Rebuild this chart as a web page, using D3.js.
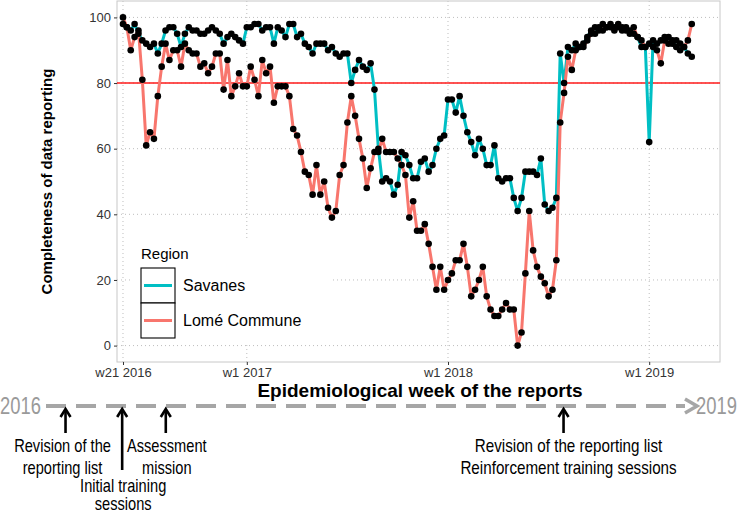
<!DOCTYPE html>
<html>
<head>
<meta charset="utf-8">
<script src="https://cdn.jsdelivr.net/npm/d3@7"></script>
<style>
  body { margin: 0; background: #fff; }
  svg { display: block; }
</style>
</head>
<body>
<svg id="chart" width="740" height="512"></svg>
<script>
// ---------- data ----------
const seriesNames = ["Savanes", "Lomé Commune"];
const seriesColors = ["#00BFC4", "#F8766D"];

const savanes = [98,97,96,98,95,93,92,91,92,89,92,96,97,97,95,91,95,97,96,96,95,95,96,97,96,95,92,94,95,94,
  93,92,97,97,98,98,96,97,97,92,97,96,94,98,98,94,95,92,91,89,92,92,92,90,91,89,88,89,89,80,
  84,87,85,84,86,78,60,50,51,50,46,49,59,58,55,51,51,56,57,53,55,60,63,64,75,75,71,76,70,65,
  62,58,63,60,55,55,61,51,50,51,51,45,41,45,53,53,53,52,57,43,41,42,45,89,80,91,90,92,91,92,
  94,96,95,97,96,97,98,97,97,96,97,95,95,94,91,91,62,93,92,93,94,92,93,91,90,91,89,88];

const lome = [100,97,90,94,96,81,61,65,63,76,85,92,87,90,90,85,92,90,89,89,85,86,83,85,89,89,78,87,76,79,
  83,79,79,85,81,76,87,83,85,74,79,79,79,76,66,64,59,53,52,46,55,46,50,42,39,41,52,55,68,76,
  70,63,57,48,54,59,59,63,59,59,59,57,55,52,39,44,35,35,37,31,24,17,24,17,20,22,26,26,31,24,
  15,17,20,24,15,11,9,9,11,13,11,11,0,4,22,41,29,24,21,19,15,17,26,68,77,88,84,90,91,91,
  93,95,97,96,98,97,97,96,98,97,96,96,97,94,93,91,92,91,90,86,93,94,92,93,92,91,93,98];

const xTickWeeks = [0, 32, 84, 136];            // weeks since w21 2016
const xTickLabels = ["w21 2016", "w1 2017", "w1 2018", "w1 2019"];
const yTicks = [0, 20, 40, 60, 80, 100];
const threshold = 80;

const timelineStart = "2016";
const timelineEnd = "2019";
const eventFractions = [0.03, 0.117, 0.184, 0.795];   // position along the timeline
const eventLines = [
  ["Revision of the", "reporting list"],
  ["Initial training", "sessions"],
  ["Assessment", "mission"],
  ["Revision of the reporting list", "Reinforcement training sessions"]
];
const eventLong = [false, true, false, false];

// ---------- layout ----------
const svg = d3.select("#chart");
const P = { left: 117, right: 720, top: 1, bottom: 362 };
const SANS = "Liberation Sans, Arial, sans-serif";

const weekIdx = savanes.map((_, i) => i);
const x = d3.scaleLinear().domain([-1.55, 154.3]).range([P.left, P.right]);
const y = d3.scaleLinear().domain([-5, 105]).range([P.bottom, P.top]);

svg.append("rect").attr("width", 740).attr("height", 512).attr("fill", "#fff");

// gridlines
const grid = svg.append("g");
grid.selectAll(".hg").data(yTicks).enter().append("line")
  .attr("x1", P.left).attr("x2", P.right)
  .attr("y1", d => y(d)).attr("y2", d => y(d))
  .attr("stroke", "#bdbdbd").attr("stroke-width", 1).attr("stroke-dasharray", "1,3");
grid.selectAll(".vg").data(xTickWeeks).enter().append("line")
  .attr("x1", d => x(d)).attr("x2", d => x(d))
  .attr("y1", P.top).attr("y2", P.bottom)
  .attr("stroke", "#bdbdbd").attr("stroke-width", 1).attr("stroke-dasharray", "1,3");

// panel border
svg.append("rect").attr("x", P.left).attr("y", P.top)
  .attr("width", P.right - P.left).attr("height", P.bottom - P.top)
  .attr("fill", "none").attr("stroke", "#c8c8c8").attr("stroke-width", 1);

// axes
const yAxis = svg.append("g").attr("transform", `translate(${P.left},0)`)
  .call(d3.axisLeft(y).tickValues(yTicks).tickSize(3).tickPadding(3));
const xAxis = svg.append("g").attr("transform", `translate(0,${P.bottom})`)
  .call(d3.axisBottom(x).tickValues(xTickWeeks).tickFormat((d, i) => xTickLabels[i]).tickSize(3).tickPadding(3));
[yAxis, xAxis].forEach(a => {
  a.select(".domain").remove();
  a.selectAll(".tick line").attr("stroke", "#333");
  a.selectAll(".tick text").attr("fill", "#333").attr("font-family", SANS).attr("font-size", 13);
});

// threshold
svg.append("line").attr("x1", P.left).attr("x2", P.right)
  .attr("y1", y(threshold)).attr("y2", y(threshold))
  .attr("stroke", "#ff1a1a").attr("stroke-width", 1.4);

// lines
const line = d3.line().x((d, i) => x(weekIdx[i])).y(d => y(d));
[savanes, lome].forEach((s, k) => {
  svg.append("path").datum(s).attr("d", line)
    .attr("fill", "none").attr("stroke", seriesColors[k]).attr("stroke-width", 3)
    .attr("stroke-linejoin", "round");
});
// points
[savanes, lome].forEach(s => {
  svg.append("g").selectAll("circle").data(s).enter().append("circle")
    .attr("cx", (d, i) => x(weekIdx[i])).attr("cy", d => y(d)).attr("r", 3.3).attr("fill", "#000");
});

// axis titles
svg.append("text").attr("transform", `translate(52,${(P.top + P.bottom) / 2}) rotate(-90)`)
  .attr("text-anchor", "middle").attr("font-family", SANS)
  .attr("font-weight", "bold").attr("font-size", 15).attr("fill", "#000")
  .text("Completeness of data reporting");
svg.append("text").attr("x", 420).attr("y", 397)
  .attr("text-anchor", "middle").attr("font-family", SANS)
  .attr("font-weight", "bold").attr("font-size", 19).attr("fill", "#000")
  .text("Epidemiological week of the reports");

// legend
const lg = svg.append("g");
lg.append("rect").attr("x", 133).attr("y", 238).attr("width", 200).attr("height", 105).attr("fill", "#fff");
lg.append("text").attr("x", 141).attr("y", 259).attr("font-family", SANS)
  .attr("font-size", 15).attr("fill", "#000").text("Region");
seriesNames.forEach((n, k) => {
  const ky = 268 + k * 35;
  lg.append("rect").attr("x", 141).attr("y", ky).attr("width", 34).attr("height", 35)
    .attr("fill", "#fff").attr("stroke", "#000").attr("stroke-width", 1.1);
  lg.append("line").attr("x1", 144).attr("x2", 172).attr("y1", ky + 17.5).attr("y2", ky + 17.5)
    .attr("stroke", seriesColors[k]).attr("stroke-width", 3);
  lg.append("text").attr("x", 183).attr("y", ky + 23).attr("font-family", SANS)
    .attr("font-size", 16).attr("fill", "#000").text(n);
});

// ---------- timeline ----------
// narrow (condensed) text: compress glyphs to fit the widths seen in the reference
function narrowText(g, t, cx, by, size, anchor, fill, factor) {
  const el = g.append("text").attr("y", by).attr("font-family", SANS)
    .attr("font-size", size).attr("fill", fill).text(t);
  const w = el.node().getComputedTextLength() * (factor || 0.78);
  el.attr("textLength", w).attr("lengthAdjust", "spacingAndGlyphs");
  const left = anchor === "middle" ? cx - w / 2 : (anchor === "end" ? cx - w : cx);
  el.attr("x", left);
  return el;
}

const tl = d3.scaleLinear().domain([0, 1]).range([46, 697]);
const ty = 406;
narrowText(svg, timelineStart, 0, ty + 8, 23, "start", "#9a9a9a", 0.8);
narrowText(svg, timelineEnd, 737, ty + 8, 23, "end", "#9a9a9a", 0.8);
svg.append("line").attr("x1", tl(0)).attr("x2", tl(1) - 12).attr("y1", ty).attr("y2", ty)
  .attr("stroke", "#a6a6a6").attr("stroke-width", 4).attr("stroke-dasharray", "20,10");
svg.append("path").attr("d", `M${tl(1) - 12},${ty - 7} L${tl(1)},${ty} L${tl(1) - 12},${ty + 7}`)
  .attr("fill", "none").attr("stroke", "#a6a6a6").attr("stroke-width", 3.5).attr("stroke-linejoin", "miter");

eventFractions.forEach((f, k) => {
  const ex = tl(f);
  const bottom = eventLong[k] ? 470 : 433;
  svg.append("line").attr("x1", ex).attr("x2", ex).attr("y1", bottom).attr("y2", ty + 4)
    .attr("stroke", "#000").attr("stroke-width", 2.6);
  svg.append("path").attr("d", `M${ex - 5},${ty + 11} L${ex},${ty + 3} L${ex + 5},${ty + 11}`)
    .attr("fill", "none").attr("stroke", "#000").attr("stroke-width", 2.6);
  const baseY = eventLong[k] ? 492 : 452;
  const tx = k === 0 ? ex - 3 : (k === 3 ? ex + 5 : ex + 1);
  eventLines[k].forEach((t, j) => {
    narrowText(svg, t, tx, baseY + j * (eventLong[k] ? 18 : 22), 19, "middle", "#000", k === 3 ? 0.8 : 0.77);
  });
});
</script>
</body>
</html>
